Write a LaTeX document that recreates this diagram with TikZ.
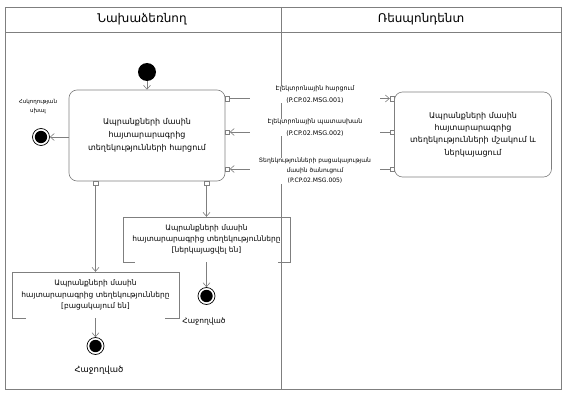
\documentclass[tikz,border=0pt]{standalone}
\usepackage{fontspec}
\setmainfont{DejaVu Sans}
\usetikzlibrary{arrows.meta,calc}
\definecolor{ln}{HTML}{7F7F7F}
\tikzset{
  ln/.style={draw=ln, line width=0.6pt},
  arr/.style={ln, -{Straight Barb[length=4pt,width=7pt]}},
  port/.style={draw=ln, fill=white, minimum size=4.5pt, inner sep=0pt, line width=0.5pt},
  act/.style={draw=ln, line width=0.6pt, rounded corners=8pt, align=center, inner sep=0pt},
  guard/.style={align=center, inner sep=0pt},
  startnode/.style={circle, fill=black, minimum size=18pt, inner sep=0pt},
  endnode/.style={circle, draw=black, line width=0.7pt, minimum size=17pt, inner sep=0pt,
    path picture={\fill[black] (path picture bounding box.center) circle (6.2pt);}},
  msg/.style={fill=white, align=center, inner sep=0pt, text width=130pt, font=\fontsize{6.3}{11.5}\selectfont},
  hdr/.style={font=\fontsize{12}{14}\selectfont},
  small/.style={align=center, font=\fontsize{5.5}{8.5}\selectfont}
}
\begin{document}
\begin{tikzpicture}[x=1pt,y=-1pt]
\useasboundingbox (0,0) rectangle (565,396);
% frame
\draw[ln] (5,7) rectangle (561,389);
\draw[ln] (5,32) -- (561,32);
\draw[ln] (281,7) -- (281,389);
\node[hdr] (h1) at (142,19.5) {Նախաձեռնող};
\node[hdr] (h2) at (421,19.5) {Ռեսպոնդենտ};
% start
\node[startnode] (s) at (147,72) {};
% main action
\node[act, minimum width=156pt, minimum height=91pt, font=\fontsize{8}{13}\selectfont] (main) at (147,135.5)
  {Ապրանքների մասին\\հայտարարագրից\\տեղեկությունների հարցում};
% right action
\node[act, minimum width=157pt, minimum height=85pt, font=\fontsize{8}{12.3}\selectfont] (resp) at (473,134.5)
  {Ապրանքների մասին\\հայտարարագրից\\տեղեկությունների մշակում և\\ներկայացում};
% ports
\node[port] (pa1) at (227.3,98.5) {};
\node[port] (pa2) at (227.3,132) {};
\node[port] (pa3) at (227.3,169) {};
\node[port] (pb1) at (392.3,98.5) {};
\node[port] (pb2) at (392.3,132) {};
\node[port] (pb3) at (392.3,169) {};
\node[port] (pd1) at (95.5,183.3) {};
\node[port] (pd2) at (206.5,183.3) {};
% start arrow
\draw[arr] (s) -- (s |- main.north);
% error end
\node[endnode] (eerr) at (41,137) {};
\node[small] (lerr) at (38,106.5) {Հսկողության\\սխալ};
\draw[arr] (main.west |- eerr) -- (eerr);
% messages
\draw[arr] (pa1) -- (pb1);
\node[msg] (m1) at (315,94.5) {Էլեկտրոնային հարցում\\(P.CP.02.MSG.001)};
\draw[arr] (pb2) -- (pa2);
\node[msg] (m2) at (315,127.5) {Էլեկտրոնային պատասխան\\(P.CP.02.MSG.002)};
\draw[arr] (pb3) -- (pa3);
\node[msg, font=\fontsize{6}{10}\selectfont] (m3) at (315,171) {Տեղեկությունների բացակայության\\մասին ծանուցում\\(P.CP.02.MSG.005)};
% guard boxes
\node[guard, minimum width=167pt, minimum height=45pt, font=\fontsize{7.5}{11.3}\selectfont] (g1) at (206.5,239.5)
  {Ապրանքների մասին\\հայտարարագրից տեղեկությունները\\{[}ներկայացվել են{]}};
\draw[ln] ($(g1.south west)+(12,0)$) -- (g1.south west) -- (g1.north west) -- (g1.north east) -- (g1.south east) -- ($(g1.south east)+(-12,0)$);
\node[guard, minimum width=167pt, minimum height=46pt, font=\fontsize{7.5}{11.3}\selectfont] (g2) at (95.5,295)
  {Ապրանքների մասին\\հայտարարագրից տեղեկությունները\\{[}բացակայում են{]}};
\draw[ln] ($(g2.south west)+(14,0)$) -- (g2.south west) -- (g2.north west) -- (g2.north east) -- (g2.south east) -- ($(g2.south east)+(-14,0)$);
\draw[arr] (pd2) -- (g1.north);
\draw[arr] (pd1) -- (g2.north);
% end states
\node[endnode] (e1) at (206.5,296) {};
\node[endnode] (e2) at (95.5,346) {};
\draw[arr] (g1.south) -- (e1);
\draw[arr] (g2.south) -- (e2);
\node[font=\fontsize{7.5}{9}\selectfont] (l1) at (204,321) {Հաջողված};
\node[font=\fontsize{8.5}{10}\selectfont] (l2) at (99,370) {Հաջողված};
\end{tikzpicture}
\end{document}
